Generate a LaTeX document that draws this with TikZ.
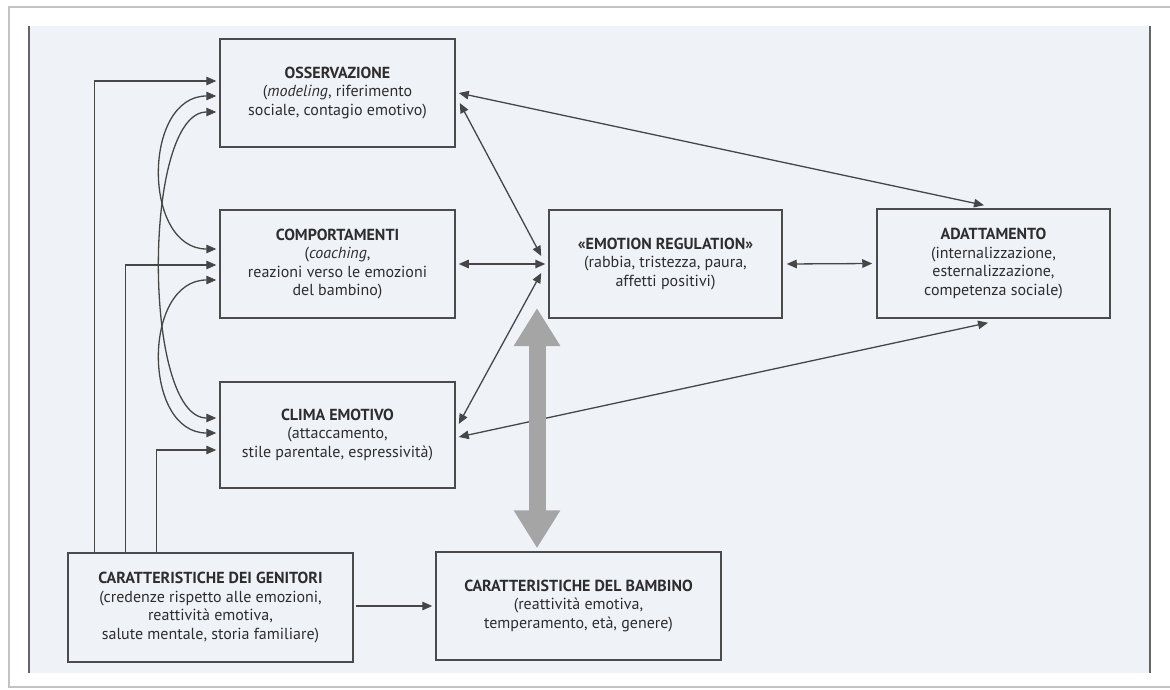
\documentclass[tikz,border=0pt]{standalone}
\usepackage{fontspec}
\setmainfont{PT Sans}
\usetikzlibrary{arrows.meta,calc}
\definecolor{pagebg}{RGB}{239,243,248}
\definecolor{ink}{RGB}{45,45,45}
\definecolor{boxline}{RGB}{75,75,75}
\definecolor{lineink}{RGB}{70,70,70}
\definecolor{arrowgray}{RGB}{165,165,165}
\definecolor{framegray}{RGB}{195,195,195}
\definecolor{pageline}{RGB}{100,100,100}
\tikzset{
  box/.style={draw=boxline, line width=1.5pt, align=center, text=ink, inner sep=0pt,
    font=\fontsize{16}{18.5}\selectfont},
  arr/.style={draw=lineink, line width=1.3pt, -{Triangle[length=10pt,width=8.5pt]}},
  dbl/.style={draw=lineink, line width=1.3pt, {Triangle[length=10pt,width=8.5pt]}-{Triangle[length=10pt,width=8.5pt]}},
  bigarrow/.style={draw=arrowgray, line width=17pt, {Triangle[length=38pt,width=44pt]}-{Triangle[length=38pt,width=44pt]}}
}
\begin{document}
\begin{tikzpicture}[x=1pt,y=-1pt]
\useasboundingbox (0,0) rectangle (1170,690);
\fill[white] (0,0) rectangle (1170,690);
% outer frame
\draw[framegray, line width=1.5pt] (1180,7) -- (9,7) -- (9,687) -- (1180,687);
% page area
\fill[pagebg] (29,26) rectangle (1150,673);
\draw[pageline, line width=2pt] (29,26) -- (29,673);
\draw[pageline, line width=2pt] (1150,26) -- (1150,673);

% boxes
\node[box, minimum width=235pt, minimum height=108pt] (oss) at (337.5,93)
  {\textbf{OSSERVAZIONE}\\(\textit{modeling}, riferimento\\sociale, contagio emotivo)};
\node[box, minimum width=235pt, minimum height=108pt] (comp) at (337.5,264)
  {\textbf{COMPORTAMENTI}\\(\textit{coaching},\\reazioni verso le emozioni\\del bambino)};
\node[box, minimum width=235pt, minimum height=106pt] (clima) at (337.5,435)
  {\textbf{CLIMA EMOTIVO}\\(attaccamento,\\stile parentale, espressività)};
\node[box, minimum width=233pt, minimum height=108pt] (er) at (665.5,264)
  {\textbf{«EMOTION REGULATION»}\\(rabbia, tristezza, paura,\\affetti positivi)};
\node[box, minimum width=233pt, minimum height=109pt] (ada) at (993.5,263.5)
  {\textbf{ADATTAMENTO}\\(internalizzazione,\\esternalizzazione,\\competenza sociale)};
\node[box, minimum width=285pt, minimum height=109pt] (gen) at (210.5,607.5)
  {\textbf{CARATTERISTICHE DEI GENITORI}\\(credenze rispetto alle emozioni,\\reattività emotiva,\\salute mentale, storia familiare)};
\node[box, minimum width=285pt, minimum height=108pt] (bam) at (578.5,606)
  {\textbf{CARATTERISTICHE DEL BAMBINO}\\(reattività emotiva,\\temperamento, età, genere)};

% parent -> three boxes (orthogonal)
\draw[arr] ([xshift=27pt]gen.north west) |- ([xshift=-3pt,yshift=12pt]oss.west);
\draw[arr] ([xshift=58pt]gen.north west) |- ([xshift=-3pt,yshift=-1pt]comp.west);
\draw[arr] ([xshift=89pt]gen.north west) |- ([xshift=-3pt,yshift=-15pt]clima.west);

% curved double arrows among left boxes
\draw[dbl] ([xshift=-3pt,yshift=-3pt]oss.west) .. controls +(-74,0) and +(-74,0) .. ([xshift=-3pt,yshift=15pt]comp.west);
\draw[dbl] ([xshift=-3pt,yshift=-19pt]oss.west) .. controls +(-74,0) and +(-74,0) .. ([xshift=-3pt,yshift=17pt]clima.west);
\draw[dbl] ([xshift=-3pt,yshift=-16pt]comp.west) .. controls +(-74,0) and +(-74,0) .. ([xshift=-3pt,yshift=2pt]clima.west);

% diagonal / horizontal double arrows
\draw[dbl] ([xshift=3pt]oss.east) -- ([xshift=-9.5pt,yshift=3pt]ada.north);
\draw[dbl] ([xshift=4pt,yshift=-10pt]oss.east) -- ([xshift=-7pt,yshift=8pt]er.west);
\draw[dbl] ([xshift=3pt]comp.east) -- ([xshift=-3pt]er.west);
\draw[dbl] ([xshift=4pt]er.east) -- ([xshift=-4pt]ada.west);
\draw[dbl] ([xshift=3pt,yshift=11pt]clima.east) -- ([xshift=-7pt,yshift=-9pt]er.west);
\draw[dbl] ([xshift=3pt,yshift=-2pt]clima.east) -- ([xshift=-5.5pt,yshift=-4pt]ada.south);

% parent -> child
\draw[arr] ([xshift=2pt]gen.east |- bam.west) -- ([xshift=-3pt]bam.west);

% big grey double arrow
\coordinate (gtop) at (537,308);
\coordinate (gbot) at (bam.north -| gtop);
\draw[bigarrow] (gtop) -- ([yshift=3pt]gbot);
\end{tikzpicture}
\end{document}
